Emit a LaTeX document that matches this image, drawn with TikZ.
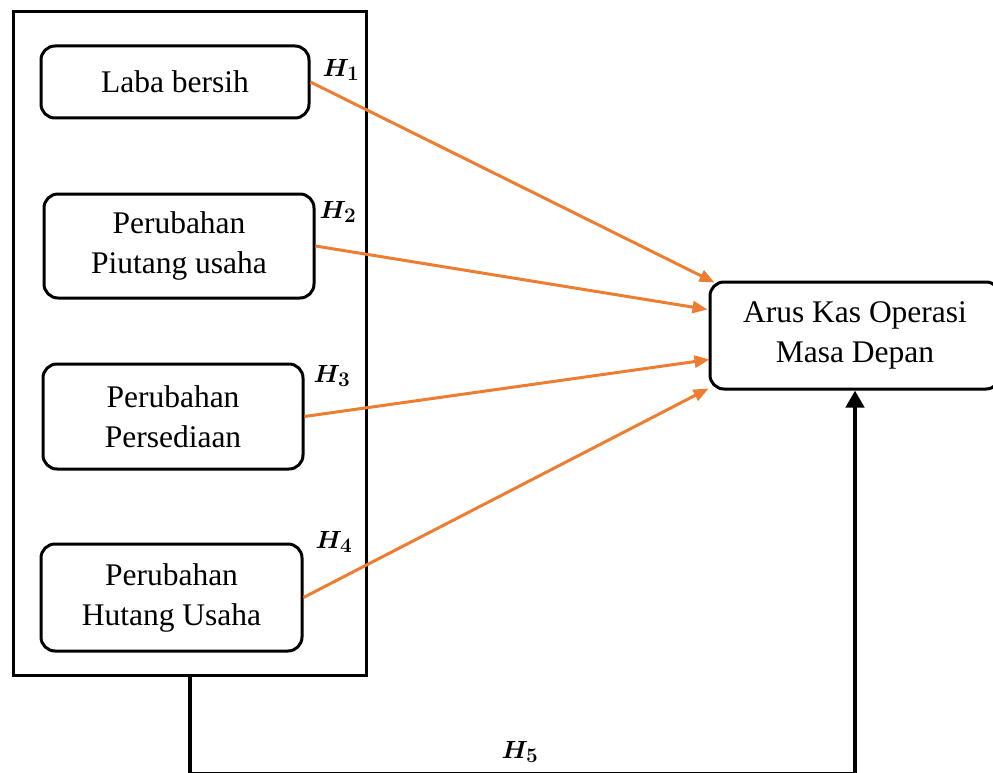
\documentclass[tikz,border=0pt]{standalone}
\usepackage{fontspec}
\setmainfont{Liberation Serif}
\usetikzlibrary{positioning,arrows.meta,calc}
\definecolor{hyporange}{RGB}{237,125,49}

\begin{document}
\begin{tikzpicture}[
  x=1pt, y=-1pt,
  var/.style={draw, line width=3pt, rounded corners=14pt, inner sep=0pt, align=center, font=\fontsize{31.5}{40}\selectfont},
  outerbox/.style={draw, line width=3.5pt, inner sep=0pt},
  harr/.style={-{Triangle[length=15pt,width=12pt]}, hyporange, line width=3pt},
  feed/.style={-{Triangle[length=17pt,width=18pt]}, line width=4.5pt},
  hlab/.style={font=\fontsize{31}{33}\selectfont\boldmath},
]
\useasboundingbox (0,0) rectangle (993,773);
\clip (0,0) rectangle (993,773);
\node[outerbox, minimum width=353pt, minimum height=664pt] (grp) at (190,343.5) {};
\node[var, minimum width=268pt, minimum height=72pt, anchor=north west] (laba) at (39.5,44.5) {Laba bersih};
\node[var, minimum width=270pt, minimum height=104pt, below right=73pt and 3pt of laba.south west] (piutang) {Perubahan\\Piutang usaha};
\node[var, minimum width=260pt, minimum height=105pt, below right=63pt and -1pt of piutang.south west] (sedia) {Perubahan\\Persediaan};
\node[var, minimum width=261pt, minimum height=107pt, below right=72pt and -2pt of sedia.south west] (hutang) {Perubahan\\Hutang Usaha};
\node[var, minimum width=290pt, minimum height=107pt, anchor=north west] (kas) at (708.5,280.5) {Arus Kas Operasi\\Masa Depan};
% hipotesis labels
\node[hlab] (h1) at (341,70) {$H_1$};
\node[hlab] (h2) at (338,212) {$H_2$};
\node[hlab] (h3) at (332,376) {$H_3$};
\node[hlab] (h4) at (334,542) {$H_4$};
\node[hlab] (h5) at (520,752) {$H_5$};
\draw[harr] (laba.east) -- ($(kas.north west)+(6,2)$);
\draw[harr] (piutang.east) -- ($(kas.west)+(-1,-26)$);
\draw[harr] (sedia.east) -- ($(kas.west)+(1,24)$);
\draw[harr] (hutang.east) -- ($(kas.south west)+(0,-2)$);
% simultan
\coordinate (base) at (190,774.5);
\draw[feed] (grp.south) -- (base) -| (kas.south);
\end{tikzpicture}
\end{document}
